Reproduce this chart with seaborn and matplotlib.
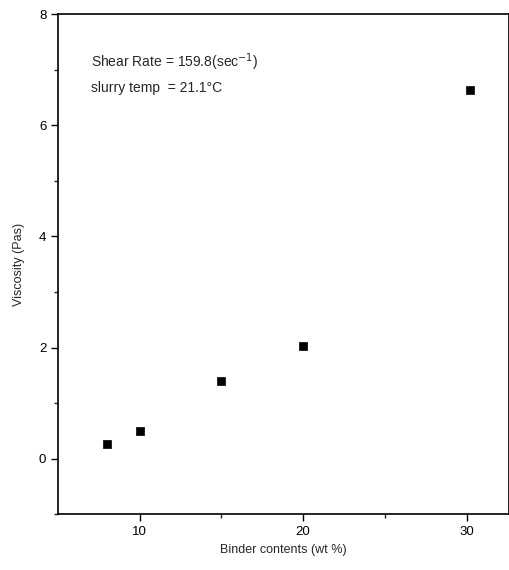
import matplotlib
matplotlib.use("Agg")
import matplotlib.pyplot as plt
import seaborn as sns
import pandas as pd

binder = [8, 10, 15, 20, 30.2]
viscosity = [0.27, 0.50, 1.39, 2.03, 6.64]
xticks = [10, 20, 30]
yticks = [0, 2, 4, 6, 8]

sns.set_style("ticks")
plt.rcParams['font.family'] = ['Liberation Sans', 'DejaVu Sans']

fig = plt.figure(figsize=(5.1, 5.7), dpi=100)
ax = fig.add_axes([0.114, 0.098, 0.884, 0.877])
df = pd.DataFrame({"Binder contents (wt %)": binder, "Viscosity (Pas)": viscosity})
sns.scatterplot(data=df, x="Binder contents (wt %)", y="Viscosity (Pas)", ax=ax,
                marker="s", s=40, color="black", edgecolor="black", linewidth=0.5)
ax.set_xlim(5, 32.6)
ax.set_ylim(-1, 8)
ax.set_xticks(xticks)
ax.set_yticks(yticks)
ax.set_xticks([15, 25], minor=True)
ax.set_yticks([-1, 1, 3, 5, 7], minor=True)
ax.tick_params(which="major", direction="out", length=5, width=1, labelsize=9.5, colors="black")
ax.tick_params(which="minor", direction="out", length=3, width=1)
for sp in ax.spines.values():
    sp.set_visible(True)
    sp.set_linewidth(1.2)
    sp.set_color("black")
ax.set_xlabel("Binder contents (wt %)", fontsize=9)
ax.set_ylabel("Viscosity (Pas)", fontsize=9, labelpad=10)
ax.text(0.072, 0.905, "Shear Rate = 159.8(sec$^{-1}$)", transform=ax.transAxes, fontsize=10, va="center")
ax.text(0.072, 0.853, "slurry temp  = 21.1\u00b0C", transform=ax.transAxes, fontsize=10, va="center")
fig.savefig("out.png", dpi=100)
